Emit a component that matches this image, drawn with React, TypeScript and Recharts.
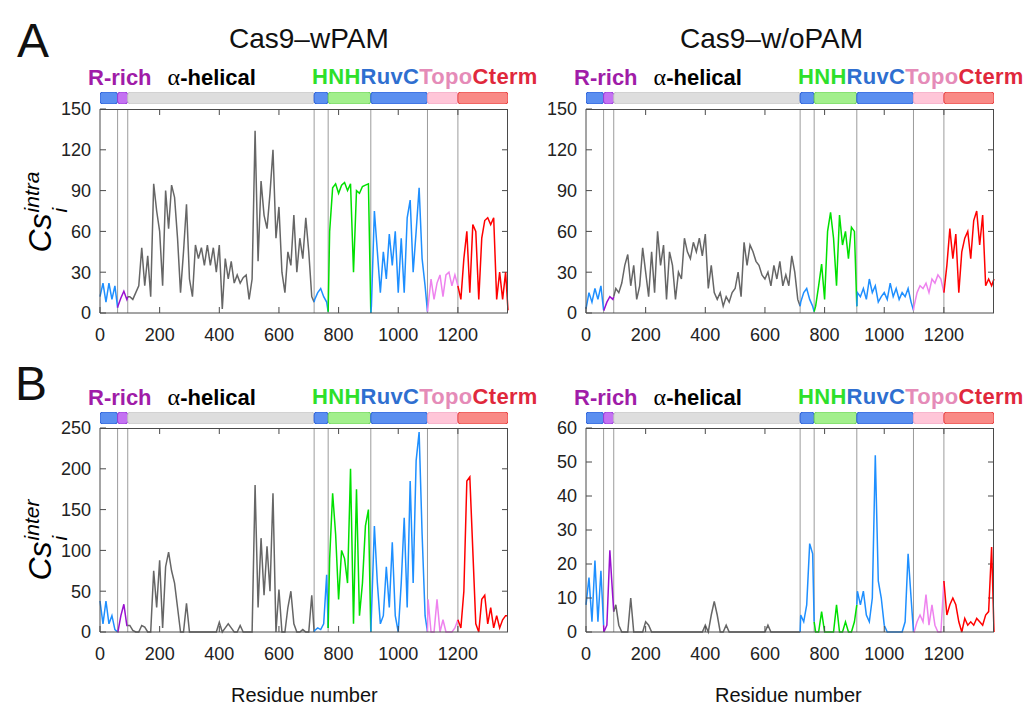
import React from 'react';
import { LineChart, Line, XAxis, YAxis, ReferenceLine, BarChart, Bar } from 'recharts';

// residue positions shared by all four panels (domain boundaries included)
const RESIDUES = [
  0, 10, 20, 30, 40, 50, 59, 60, 70, 80, 90, 93,
  100, 110, 120, 130, 140, 150, 160, 170, 180, 190,
  200, 210, 220, 230, 240, 250, 260, 270, 280, 290,
  300, 310, 320, 330, 340, 350, 360, 370, 380, 390,
  400, 410, 420, 430, 440, 450, 460, 470, 480, 490,
  500, 510, 520, 530, 540, 550, 560, 570, 580, 590,
  600, 610, 620, 630, 640, 650, 660, 670, 680, 690, 700, 710, 718,
  720, 730, 740, 750, 760, 765,
  770, 780, 790, 800, 810, 820, 830, 840, 850, 860, 870, 880, 890, 900, 908,
  910, 920, 930, 940, 950, 960, 970, 980, 990, 1000, 1010, 1020, 1030, 1040, 1050, 1060, 1070, 1080, 1090, 1098,
  1100, 1110, 1120, 1130, 1140, 1150, 1160, 1170, 1180, 1190, 1200, 1210, 1220, 1230, 1240, 1250, 1260, 1270,
  1280, 1290, 1300, 1310, 1320, 1330, 1340, 1350, 1360, 1368,
];

// Cs_i^intra, Cas9-wPAM
const INTRA_WPAM = [
  12, 22, 8, 22, 10, 20, 4, 5, 11, 16, 10, 12,
  12, 10, 15, 20, 48, 20, 42, 12, 95, 75,
  60, 20, 90, 62, 94, 85, 55, 15, 45, 80,
  25, 12, 50, 40, 48, 35, 50, 35, 48, 30,
  50, 3, 40, 25, 38, 22, 28, 22, 26, 28,
  10, 25, 134, 38, 97, 72, 62, 88, 120, 55,
  78, 30, 15, 45, 35, 72, 30, 55, 40, 70, 45, 12, 8,
  10, 15, 18, 12, 8, 1,
  60, 92, 95, 88, 94, 96, 90, 95, 30, 90, 88, 93, 94, 95, 0,
  5, 75, 45, 15, 45, 25, 58, 35, 60, 15, 55, 15, 70, 83, 30, 60, 92, 40, 20, 1,
  5, 25, 10, 22, 28, 12, 28, 30, 20, 28, 20, 10, 40, 60, 15, 65, 60, 10,
  55, 68, 70, 65, 70, 10, 30, 10, 30, 2,
];

// Cs_i^intra, Cas9-w/oPAM
const INTRA_WOPAM = [
  3, 15, 8, 18, 10, 20, 2, 2, 8, 12, 10, 12,
  18, 15, 22, 35, 43, 20, 35, 10, 20, 48,
  30, 12, 45, 15, 60, 35, 50, 10, 45, 35,
  10, 30, 25, 55, 45, 40, 52, 45, 55, 42,
  58, 18, 35, 15, 10, 15, 5, 12, 8, 15,
  18, 30, 12, 52, 35, 50, 45, 38, 35, 28,
  25, 30, 20, 35, 25, 38, 20, 28, 20, 42, 30, 10, 5,
  8, 15, 18, 10, 5, 1,
  5, 20, 36, 10, 60, 74, 55, 20, 72, 50, 60, 40, 63, 60, 5,
  15, 12, 18, 10, 25, 15, 20, 8, 12, 15, 10, 22, 12, 18, 10, 15, 12, 18, 8, 2,
  5, 15, 20, 18, 22, 15, 25, 22, 28, 25, 15, 35, 62, 40, 58, 15, 45, 55,
  60, 40, 68, 75, 50, 72, 20, 25, 20, 25,
];

// Cs_i^inter, Cas9-wPAM
const INTER_WPAM = [
  38, 10, 38, 10, 20, 3, 0, 0, 20, 34, 8, 8,
  8, 2, 0, 0, 8, 6, 0, 0, 75, 30,
  88, 5, 80, 98, 75, 60, 30, 0, 0, 35,
  0, 0, 0, 0, 0, 0, 0, 0, 0, 0,
  12, 0, 5, 10, 5, 0, 0, 8, 0, 0,
  0, 0, 180, 30, 115, 45, 105, 50, 170, 0,
  52, 0, 0, 30, 50, 10, 0, 0, 3, 0, 0, 45, 0,
  2, 5, 3, 10, 70, 5,
  90, 170, 120, 40, 100, 90, 60, 200, 10, 175, 20, 60, 130, 150, 0,
  20, 130, 60, 10, 20, 80, 30, 110, 20, 0, 60, 140, 30, 185, 60, 210, 245, 120, 20, 0,
  40, 0, 0, 40, 0, 15, 0, 0, 0, 5, 15, 5, 50, 185, 190, 100, 10, 0,
  40, 45, 10, 30, 5, 20, 5, 15, 20, 20,
];

// Cs_i^inter, Cas9-w/oPAM
const INTER_WOPAM = [
  8, 16, 3, 21, 3, 18, 2, 0, 2, 24, 10, 6,
  8, 2, 0, 0, 0, 10, 0, 0, 0, 0,
  3, 2, 0, 0, 0, 0, 0, 0, 0, 0,
  0, 0, 0, 0, 0, 0, 0, 0, 0, 0,
  2, 0, 5, 9, 5, 0, 0, 2, 0, 0,
  0, 0, 0, 0, 0, 0, 0, 0, 0, 0,
  0, 2, 0, 0, 0, 0, 0, 0, 0, 0, 0, 0, 0,
  5, 3, 8, 26, 23, 3,
  0, 0, 6, 0, 0, 0, 0, 8, 0, 0, 3, 0, 0, 3, 8,
  12, 8, 12, 5, 3, 10, 52, 15, 10, 2, 0, 0, 0, 0, 0, 0, 3, 23, 10, 0,
  0, 3, 5, 3, 11, 2, 8, 2, 0, 0, 15, 5, 8, 10, 8, 3, 0, 4,
  2, 3, 2, 4, 3, 2, 5, 6, 25, 0,
];

const DOMAINS = [
  { key: 'ruvc1', start: 0, end: 59, line: '#1e8fff', fill: '#5b8ff0', edge: '#2a5fd8' },
  { key: 'bh', start: 59, end: 93, line: '#9a10d0', fill: '#c472f2', edge: '#9a3ad8' },
  { key: 'rec', start: 93, end: 718, line: '#666666', fill: '#dedede', edge: '#c6c6c6' },
  { key: 'ruvc2', start: 718, end: 765, line: '#1e8fff', fill: '#5b8ff0', edge: '#2a5fd8' },
  { key: 'hnh', start: 765, end: 908, line: '#00e000', fill: '#a2ef8c', edge: '#6fd35c' },
  { key: 'ruvc3', start: 908, end: 1098, line: '#1e8fff', fill: '#5b8ff0', edge: '#2a5fd8' },
  { key: 'topo', start: 1098, end: 1200, line: '#ee82ee', fill: '#ffc6d8', edge: '#f0a6c2' },
  { key: 'cterm', start: 1200, end: 1368, line: '#ff0000', fill: '#f98a86', edge: '#e84040' },
];

const X_MAX = 1368;
const X_TICKS = [0, 200, 400, 600, 800, 1000, 1200];
const BOUNDS = [59, 93, 718, 765, 908, 1098, 1200];

const FONT = '"Liberation Sans", Arial, Helvetica, sans-serif';
const AXIS = '#4a4a4a';
const PW = 408; // plot width
const PH = 204; // plot height
const TOP = 12; // room for the top tick label
const TICK = 6; // inward tick length in px

const buildRows = (values: number[]) =>
  RESIDUES.map((r, i) => {
    const row: any = { r };
    DOMAINS.forEach(d => {
      row[d.key] = r >= d.start && r <= d.end ? values[i] : null;
    });
    return row;
  });

const barRow: any = { name: 'dom' };
DOMAINS.forEach(d => { barRow[d.key] = d.end - d.start; });

const Header = ({ x, y }: { x: number; y: number }) => (
  <>
    <div style={{ position: 'absolute', left: x - 12, top: y, fontFamily: FONT, fontWeight: 'bold', fontSize: 22, lineHeight: '22px', whiteSpace: 'nowrap' }}>
      <span style={{ color: '#a01ca8' }}>R-rich</span>
      <span style={{ marginLeft: 16, color: '#000' }}>
        <span style={{ fontFamily: '"Liberation Serif", "DejaVu Serif", serif', fontWeight: 'normal', fontSize: 24 }}>α</span>-helical
      </span>
    </div>
    <div style={{ position: 'absolute', left: x + 212, top: y, fontFamily: FONT, fontWeight: 'bold', fontSize: 22, lineHeight: '22px', whiteSpace: 'nowrap', letterSpacing: 0.3 }}>
      <span style={{ color: '#2ee02a' }}>HNH</span>
      <span style={{ color: '#2f6fd0' }}>RuvC</span>
      <span style={{ color: '#e58bb8' }}>Topo</span>
      <span style={{ color: '#e0283c' }}>Cterm</span>
    </div>
    <div style={{ position: 'absolute', left: x, top: y + 26 }}>
      <BarChart width={PW} height={12} data={[barRow]} layout="vertical" margin={{ top: 0, right: 0, bottom: 0, left: 0 }} barCategoryGap={0}>
        <XAxis type="number" hide domain={[0, X_MAX]} />
        <YAxis type="category" hide dataKey="name" />
        {DOMAINS.map(d => (
          <Bar key={d.key} dataKey={d.key} stackId="dom" fill={d.fill} stroke={d.edge} strokeWidth={1} radius={3} isAnimationActive={false} />
        ))}
      </BarChart>
    </div>
  </>
);

const Panel = ({ x, y, values, yMax, yTicks }: { x: number; y: number; values: number[]; yMax: number; yTicks: number[] }) => {
  const rows = buildRows(values);
  const dy = (yMax * TICK) / PH;
  const dx = (X_MAX * TICK) / PW;
  return (
    <>
      <div style={{ position: 'absolute', left: x - 60, top: y - TOP }}>
        <LineChart width={60 + PW + 10} height={TOP + PH + 40} data={rows} margin={{ top: TOP, right: 10, bottom: 0, left: 0 }}>
          <XAxis dataKey="r" type="number" domain={[0, X_MAX]} ticks={X_TICKS} interval={0} height={40}
            tickSize={-TICK} tickMargin={21} stroke={AXIS}
            tick={{ fill: '#222', fontSize: 18, fontFamily: FONT }} />
          <YAxis type="number" domain={[0, yMax]} ticks={yTicks} interval={0} width={60}
            tickSize={-TICK} tickMargin={15} stroke={AXIS}
            tick={{ fill: '#222', fontSize: 18, fontFamily: FONT }} />
          {BOUNDS.map(b => (
            <ReferenceLine key={b} x={b} stroke="#9c9c9c" strokeWidth={1} />
          ))}
          {/* mirrored ticks on the top and right edges of the frame */}
          {X_TICKS.slice(1).map(t => (
            <ReferenceLine key={'tx' + t} segment={[{ x: t, y: yMax }, { x: t, y: yMax - dy }]} stroke={AXIS} />
          ))}
          {yTicks.slice(1, -1).map(t => (
            <ReferenceLine key={'ty' + t} segment={[{ x: X_MAX - dx, y: t }, { x: X_MAX, y: t }]} stroke={AXIS} />
          ))}
          {DOMAINS.map(d => (
            <Line key={d.key} dataKey={d.key} stroke={d.line} strokeWidth={1.5} dot={false} connectNulls={false} isAnimationActive={false} />
          ))}
        </LineChart>
      </div>
      <div style={{ position: 'absolute', left: x, top: y, width: PW, height: PH, borderTop: `1px solid ${AXIS}`, borderRight: `1px solid ${AXIS}`, boxSizing: 'border-box', pointerEvents: 'none' }} />
    </>
  );
};

const YLabel = ({ x, y, sup }: { x: number; y: number; sup: string }) => (
  <div style={{ position: 'absolute', left: x, top: y, transform: 'translate(-50%, -50%) rotate(-90deg)', fontFamily: FONT, fontStyle: 'italic', fontSize: 32, whiteSpace: 'nowrap', lineHeight: '32px' }}>
    Cs
    <span style={{ position: 'relative', display: 'inline-block', fontSize: 21, marginLeft: 1 }}>
      <span style={{ position: 'relative', top: -12 }}>{sup}</span>
      <span style={{ position: 'absolute', left: 0, top: 16 }}>i</span>
    </span>
  </div>
);

const Text = ({ x, y, size, children }: any) => (
  <div style={{ position: 'absolute', left: x, top: y, fontFamily: FONT, fontSize: size, lineHeight: `${size}px`, whiteSpace: 'nowrap', color: '#111' }}>
    {children}
  </div>
);

export default function App() {
  return (
    <div style={{ position: 'absolute', left: 0, top: 0, width: 1024, height: 711, background: '#fff', overflow: 'hidden' }}>
      <Text x={17} y={17} size={48}>A</Text>
      <Text x={15} y={360} size={48}>B</Text>
      <Text x={229} y={25} size={28}>Cas9–wPAM</Text>
      <Text x={680} y={25} size={28}>Cas9–w/oPAM</Text>

      <Header x={100} y={66} />
      <Header x={586} y={66} />
      <Header x={100} y={386} />
      <Header x={586} y={386} />

      <Panel x={100} y={109} values={INTRA_WPAM} yMax={150} yTicks={[0, 30, 60, 90, 120, 150]} />
      <Panel x={586} y={109} values={INTRA_WOPAM} yMax={150} yTicks={[0, 30, 60, 90, 120, 150]} />
      <Panel x={100} y={428} values={INTER_WPAM} yMax={250} yTicks={[0, 50, 100, 150, 200, 250]} />
      <Panel x={586} y={428} values={INTER_WOPAM} yMax={60} yTicks={[0, 10, 20, 30, 40, 50, 60]} />

      <YLabel x={42} y={212} sup="intra" />
      <YLabel x={42} y={540} sup="inter" />

      <Text x={231} y={685} size={20}>Residue number</Text>
      <Text x={715} y={685} size={20}>Residue number</Text>
    </div>
  );
}
